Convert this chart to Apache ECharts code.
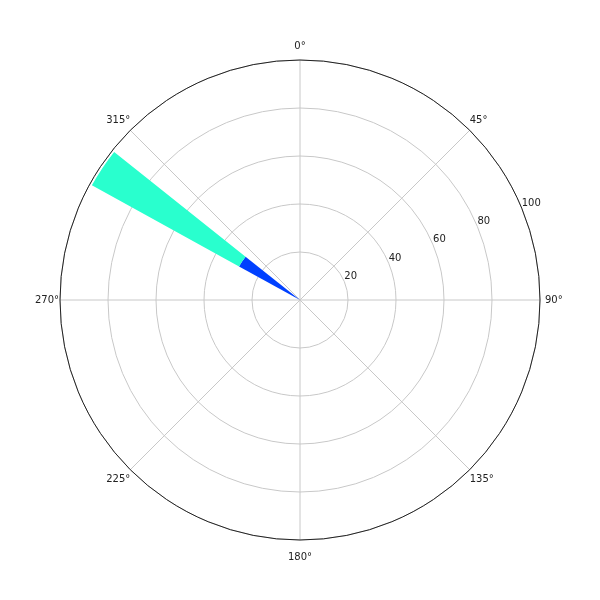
<!DOCTYPE html>
<html><head><meta charset="utf-8">
<script src="https://cdn.jsdelivr.net/npm/echarts@6/dist/echarts.min.js"></script>
<style>html,body{margin:0;padding:0;background:#fff}#c{width:600px;height:600px}</style>
</head><body><div id="c"></div>
<script>
// Data
const directions = [303.7];      // bar centre, degrees (compass)
const sectorWidth = [9.7];       // bar angular width, degrees
const bin1 = [29];               // inner (blue) segment
const bin2 = [70];               // outer (teal) segment
const binColors = ['#0040ff', '#29ffce'];
const radiusTicks = [0, 20, 40, 60, 80, 100];
const angleTicks = [0, 45, 90, 135, 180, 225, 270, 315];

const bins = [bin1, bin2];
const seriesData = bins.map(() => []);
directions.forEach((d, i) => {
  let base = 0;
  bins.forEach((b, k) => {
    seriesData[k].push([d, base, base + b[i], sectorWidth[i]]);
    base += b[i];
  });
});

function renderItem(params, api) {
  const cs = params.coordSys;
  const theta = api.value(0), v0 = api.value(1), v1 = api.value(2), w = api.value(3);
  const pa = api.coord([v1, theta - w / 2]);
  const pb = api.coord([v1, theta + w / 2]);
  const pr = api.coord([v0, theta]);
  const cx = cs.cx, cy = cs.cy;
  let sa = Math.atan2(pa[1] - cy, pa[0] - cx);
  let ea = Math.atan2(pb[1] - cy, pb[0] - cx);
  if (ea < sa) ea += Math.PI * 2;
  const r1 = Math.hypot(pa[0] - cx, pa[1] - cy);
  const r0 = Math.hypot(pr[0] - cx, pr[1] - cy);
  return {
    type: 'sector',
    shape: { cx, cy, r0, r: r1, startAngle: sa, endAngle: ea, clockwise: true },
    style: { fill: api.visual('color') }
  };
}

const lab = { fontSize: 10, color: '#222', fontFamily: 'DejaVu Sans' };
const angleRich = {
  n: Object.assign({ padding: [0, 0, 9, 0] }, lab),
  s: Object.assign({ padding: [12, 0, 0, 0] }, lab),
  e: Object.assign({ padding: [0, 0, 0, 5] }, lab),
  w: Object.assign({ padding: [0, 1, 0, 0] }, lab),
  up: Object.assign({ padding: [0, 0, 5, 0] }, lab),
  dn: Object.assign({ padding: [5, 0, 0, 0] }, lab)
};
const angleStyleKey = { 0: 'n', 45: 'up', 90: 'e', 135: 'dn', 180: 's', 225: 'dn', 270: 'w', 315: 'up' };

const chart = echarts.init(document.getElementById('c'), null, { renderer: 'canvas' });
chart.setOption({
  animation: false,
  textStyle: { fontFamily: 'DejaVu Sans' },
  polar: [
    { center: ['50%', '50%'], radius: 240 },
    { center: ['50%', '50%'], radius: 240 }
  ],
  angleAxis: [
    {
      polarIndex: 0, type: 'value', min: 0, max: 360, interval: 45,
      startAngle: 90, clockwise: true,
      axisLine: { show: true, lineStyle: { color: '#222', width: 1 } },
      axisTick: { show: false },
      axisLabel: { show: true, margin: 0, fontSize: 10, color: '#222',
        rich: angleRich,
        formatter: v => (v === 360 ? '' : '{' + angleStyleKey[v] + '|' + v + '°}') },
      splitLine: { show: true, lineStyle: { color: '#c8c8c8', width: 1 } }
    },
    {
      polarIndex: 1, type: 'value', min: 0, max: 360,
      startAngle: 22.5, clockwise: true,
      axisLine: { show: false }, axisTick: { show: false },
      axisLabel: { show: false }, splitLine: { show: false }
    }
  ],
  radiusAxis: [
    {
      polarIndex: 0, type: 'value', min: 0, max: 100, interval: 20,
      axisLine: { show: false }, axisTick: { show: false },
      axisLabel: { show: false },
      splitLine: { show: true, lineStyle: { color: '#c8c8c8', width: 1 } }
    },
    {
      polarIndex: 1, type: 'value', min: 0, max: 100, interval: 20,
      axisLine: { show: false }, axisTick: { show: false },
      axisLabel: { show: true, fontSize: 10, color: '#222', margin: 0,
        align: 'left', verticalAlign: 'bottom',
        formatter: v => (v === 0 ? '' : String(v)) },
      splitLine: { show: false }
    }
  ],
  series: seriesData.map((d, k) => ({
    type: 'custom', coordinateSystem: 'polar', polarIndex: 0,
    renderItem, data: d,
    dimensions: ['angle', 'r0', 'r1', 'w'],
    encode: { angle: 0, radius: 2 },
    itemStyle: { color: binColors[k] }
  }))
});
</script></body></html>
